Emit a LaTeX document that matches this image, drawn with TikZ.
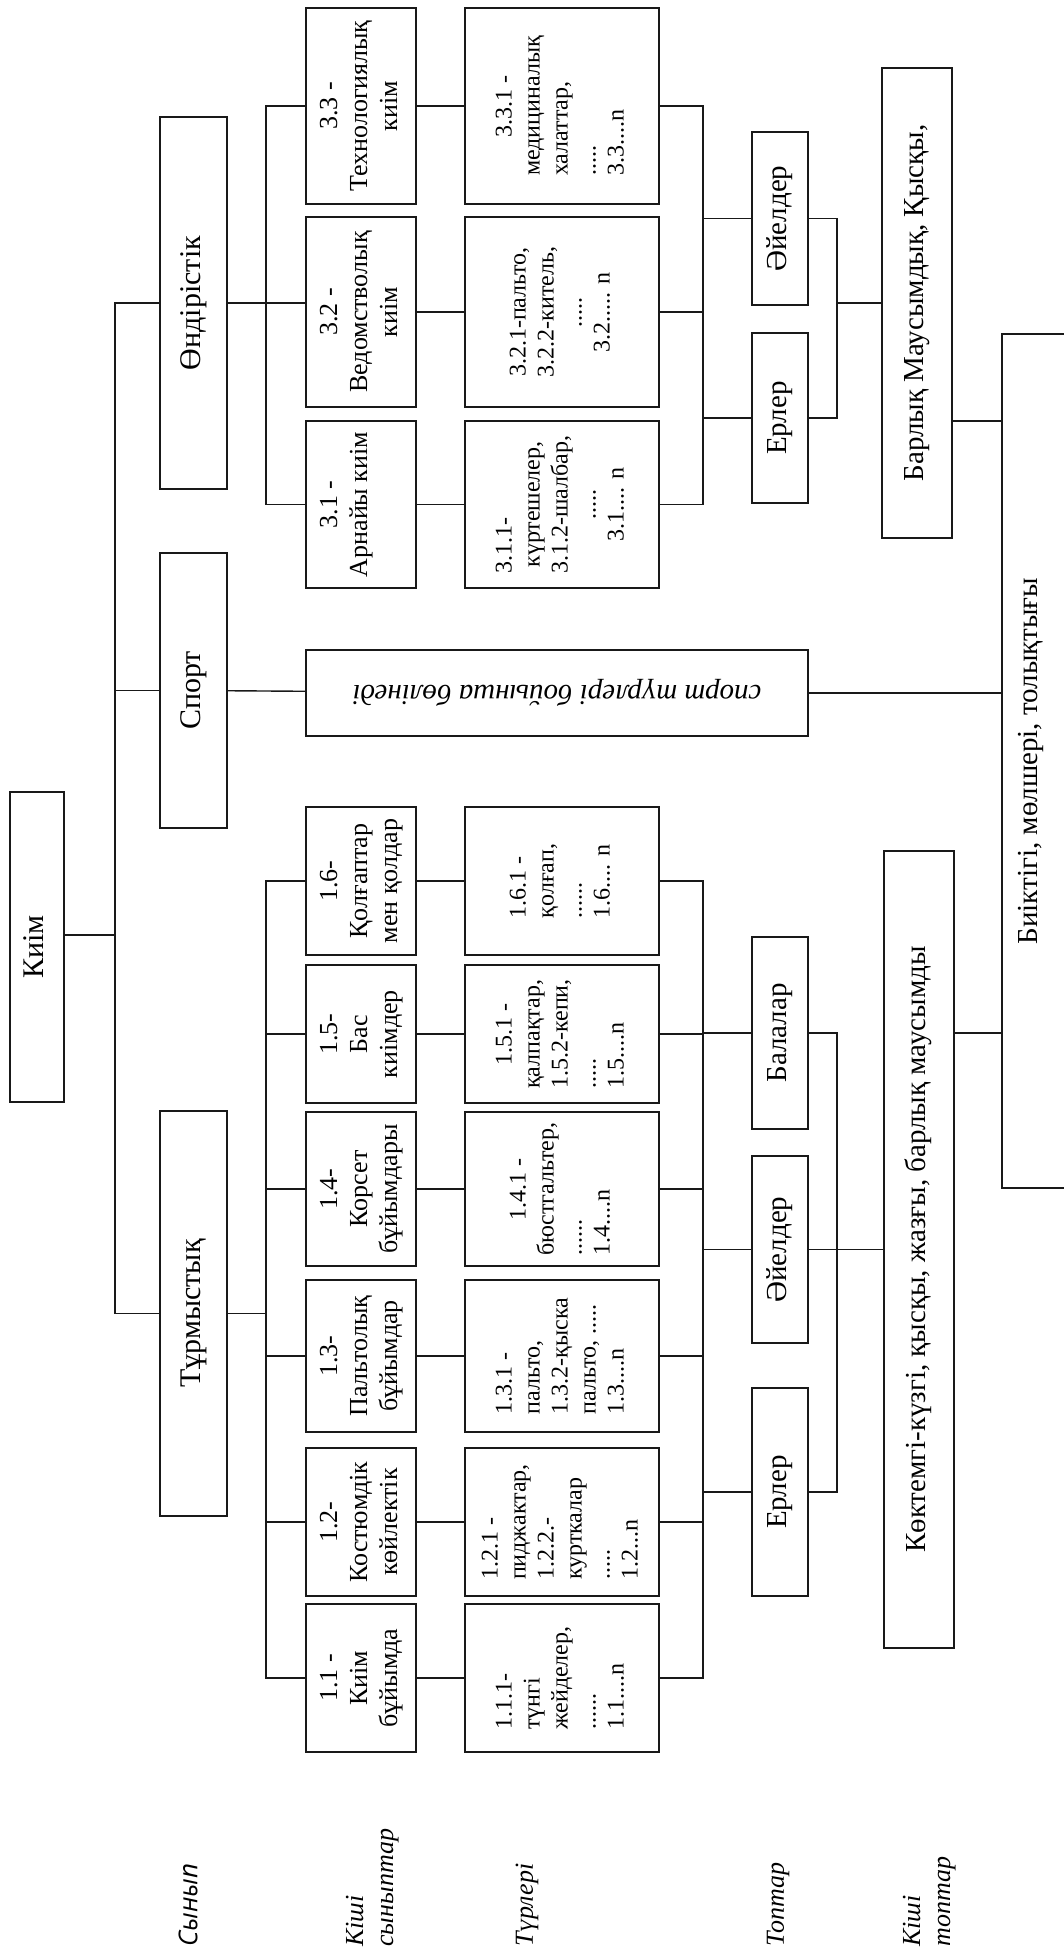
\documentclass[tikz,border=0pt]{standalone}
\usepackage{fontspec}
\usepackage{graphicx}
\setmainfont{Liberation Serif}
\newfontfamily\labsans{Open Sans}
\tikzset{
  cellbox/.style={draw=black!90,line width=0.7pt,inner sep=0pt,outer sep=0pt},
  big/.style={font=\fontsize{15}{17}\selectfont},
  sub/.style={font=\fontsize{13}{15}\selectfont},
  kind/.style={font=\fontsize{12}{14}\selectfont},
  grp/.style={font=\fontsize{14.5}{16.5}\selectfont},
  link/.style={draw=black!90,line width=0.7pt},
  rowlabel/.style={inner sep=0pt,anchor=south,font=\fontsize{13}{15}\selectfont\itshape},
}
% text turned to read upward
\newcommand{\vt}[2][c]{\rotatebox{90}{\begin{tabular}{@{}#1@{}}#2\end{tabular}}}
% box from its corners, in pixels of the page
\newcommand{\boxcell}[7][]{%
  \pgfmathsetmacro{\cw}{(#5-#3)/2}%
  \pgfmathsetmacro{\ch}{(#6-#4)/2}%
  \node[cellbox,minimum width=\cw pt,minimum height=\ch pt,#1] (#2) at ({(#3+#5)/2},{(#4+#6)/2}) {#7};}

\begin{document}
\begin{tikzpicture}[x=0.5pt,y=-0.5pt]
\useasboundingbox (0,0) rectangle (1064,1951);
\clip (0,0) rectangle (1064,1951);

% root and classes
\boxcell[big]{kiim}{10}{792}{64}{1102}{\vt{Киім}}
\boxcell[big]{ondir}{160}{117}{227}{489}{\vt{Өндірістік}}
\boxcell[big]{sport}{160}{553}{227}{828}{\vt{Спорт}}
\boxcell[big]{turm}{160}{1111}{227}{1516}{\vt{Тұрмыстық}}

% industrial branch
\boxcell[sub]{b33}{306}{8}{416}{204}{\vt{3.3 -\\ Технологиялық\\ киім}}
\boxcell[sub]{b32}{306}{217}{416}{407}{\vt{3.2 -\\ Ведомстволық\\ киім}}
\boxcell[sub]{b31}{306}{421}{416}{588}{\vt{3.1 -\\ Арнайы киім\\ \mbox{}}}
\boxcell[kind]{t33}{465}{8}{659}{204}{\vt[l]{\multicolumn{1}{@{}c@{}}{3.3.1 -}\\ медициналық\\ халаттар,\\ .....\\ 3.3....n}}
\boxcell[kind]{t32}{465}{217}{659}{407}{\vt{3.2.1-пальто,\\ 3.2.2-китель,\\ .....\\ 3.2..... n}}
\boxcell[kind]{t31}{465}{421}{659}{588}{\vt{\multicolumn{1}{@{}l@{}}{3.1.1-}\\ күртешелер,\\ 3.1.2-шалбар,\\ .....\\ 3.1.... n}}
\boxcell[grp]{ayelA}{752}{132}{808}{305}{\vt{Әйелдер}}
\boxcell[grp]{erlA}{752}{333}{808}{503}{\vt{Ерлер}}
\boxcell[grp]{barl}{882}{68}{952}{538}{\vt{Барлық Маусымдық, Қысқы,}}

% sport branch
\boxcell[grp]{sportd}{306}{650}{808}{736}{\rotatebox{180}{\itshape спорт түрлері бойынша бөлінеді}}

% household branch
\boxcell[sub]{b16}{306}{807}{416}{955}{\vt{1.6-\\ Қолғаптар\\ мен қолдар}}
\boxcell[sub]{b15}{306}{965}{416}{1103}{\vt{1.5-\\ Бас\\ киімдер}}
\boxcell[sub]{b14}{306}{1112}{416}{1266}{\vt{1.4-\\ Корсет\\ бұйымдары}}
\boxcell[sub]{b13}{306}{1280}{416}{1432}{\vt{1.3-\\ Пальтолық\\ бұйымдар}}
\boxcell[sub]{b12}{306}{1448}{416}{1596}{\vt{1.2-\\ Костюмдік\\ көйлектік}}
\boxcell[sub]{b11}{306}{1604}{416}{1752}{\vt{1.1 -\\ Киім\\ бұйымда}}
\boxcell[kind]{t16}{465}{807}{659}{955}{\vt[l]{1.6.1 -\\ қолғап,\\ ......\\ 1.6.... n}}
\boxcell[kind]{t15}{465}{965}{659}{1103}{\vt[l]{\multicolumn{1}{@{}c@{}}{1.5.1 -}\\ қалпақтар,\\ 1.5.2-кепи,\\ .....\\ 1.5....n}}
\boxcell[kind]{t14}{465}{1112}{659}{1266}{\vt[l]{\multicolumn{1}{@{}c@{}}{1.4.1 -}\\ бюстгальтер,\\ ......\\ 1.4....n}}
\boxcell[kind]{t13}{465}{1280}{659}{1432}{\vt[l]{1.3.1 -\\ пальто,\\ 1.3.2-қыска\\ пальто, .....\\ 1.3....n}}
\boxcell[kind]{t12}{465}{1448}{659}{1596}{\vt[l]{1.2.1 -\\ пиджактар,\\ 1.2.2.-\\ курткалар\\ .....\\ 1.2...n}}
\boxcell[kind]{t11}{465}{1604}{659}{1752}{\vt[l]{1.1.1-\\ түнгі\\ жейделер,\\ ......\\ 1.1....n}}
\boxcell[grp]{bal}{752}{937}{808}{1129}{\vt{Балалар}}
\boxcell[grp]{ayelB}{752}{1156}{808}{1343}{\vt{Әйелдер}}
\boxcell[grp]{erlB}{752}{1388}{808}{1596}{\vt{Ерлер}}
\boxcell[grp]{kokt}{884}{851}{954}{1648}{\vt{Көктемгі-күзгі, қысқы, жазғы, барлық маусымды}}

% sizes, box running off the page
\boxcell{dims}{1002}{334}{1100}{1188}{}
\node[grp] (dimstext) at (1031,761) {\rotatebox{90}{Биіктігі, мөлшері, толықтығы}};

% row labels
\node[rowlabel,font=\fontsize{13}{15}\selectfont\labsans\itshape] (lclass) at (188,1947) {\rotatebox{90}{Сынып}};
\node[rowlabel] (lsub) at (372,1947) {\vt[l]{Кіші\\ сыныптар}};
\node[rowlabel] (lkind) at (527,1947) {\rotatebox{90}{Түрлері}};
\node[rowlabel] (lgrp) at (778,1947) {\rotatebox{90}{Топтар}};
\node[rowlabel] (lsubgrp) at (929,1947) {\vt[l]{Кіші\\ топтар}};

% buses
\coordinate (trunk) at (115,935);
\coordinate (busO) at (266,300);
\coordinate (busT) at (266,1300);
\coordinate (busA) at (703,300);
\coordinate (busB) at (837,300);
\coordinate (busC) at (703,1300);
\coordinate (busD) at (837,1300);

\draw[link] ([yshift=6pt]kiim.east) -- (trunk);
\draw[link] (ondir.west) -| (trunk) |- (turm.west);
\draw[link] (trunk |- sport.west) -- (sport.west);

\draw[link] (ondir.east) -- (ondir.east -| b32.west);
\draw[link] (b33.west) -| (busO) |- (b31.west);
\foreach \s in {31,32,33} \draw[link] (b\s) -- (t\s);
\draw[link] (t33.east) -| (busA) |- (t31.east);
\draw[link] (t32.east) -- (t32.east -| busA);
\draw[link] (busA |- ayelA.west) -- (ayelA.west);
\draw[link] (busA |- erlA.west) -- (erlA.west);
\draw[link] (ayelA.east) -| (busB) |- (erlA.east);
\draw[link] (busB |- barl.west) -- (barl.west);
\draw[link] ([yshift=-176.5pt]barl.north east) coordinate (bj) -- (bj -| dims.west);

\draw[link] (sport) -- (sportd);
\draw[link] (sportd.east) -- (sportd.east -| dims.west);

\draw[link] (turm.east) -- (turm.east -| busT);
\draw[link] (b16.west) -| (busT) |- (b11.west);
\foreach \s in {12,...,15} \draw[link] (b\s.west) -- (b\s.west -| busT);
\foreach \s in {11,...,16} \draw[link] (b\s) -- (t\s);
\draw[link] (t16.east) -| (busC) |- (t11.east);
\foreach \s in {12,...,15} \draw[link] (t\s.east) -- (t\s.east -| busC);
\foreach \g in {bal,ayelB,erlB} \draw[link] (busC |- \g.west) -- (\g.west);
\draw[link] (bal.east) -| (busD) |- (erlB.east);
\draw[link] (ayelB.east) -- (kokt.west);
\draw[link] ([yshift=-91pt]kokt.north east) coordinate (kj) -- (kj -| dims.west);
\end{tikzpicture}
\end{document}
